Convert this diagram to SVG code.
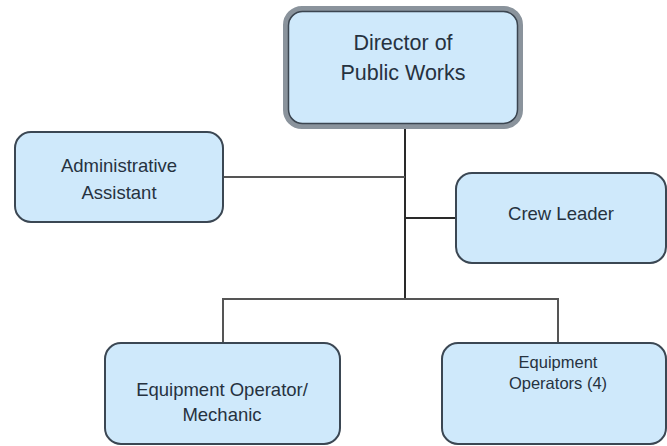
<svg xmlns="http://www.w3.org/2000/svg" width="667" height="446" viewBox="0 0 667 446">
<style>
.box{fill:#cfe9fb;stroke:#3b4753;stroke-width:2}
.t{font-family:"Liberation Sans",Arial,sans-serif;fill:#26323f;text-anchor:middle}
.c{stroke:#2a2a2a;stroke-width:2;fill:none}
</style>
<rect width="667" height="446" fill="#ffffff"/>
<g id="connectors">
<line class="c" x1="405" y1="128" x2="405" y2="300"/>
<line class="c" x1="223" y1="177" x2="405" y2="177" style="stroke:#555"/>
<line class="c" x1="405" y1="218" x2="456" y2="218"/>
<polyline class="c" points="223,343 223,299 558,299 558,343" style="stroke:#555"/>
</g>
<g id="director">
<rect x="286" y="9" width="234" height="117" rx="16" fill="#cfe9fb" stroke="#8a939c" stroke-width="6"/>
<rect x="288.5" y="11.5" width="229" height="112" rx="14" fill="none" stroke="#3b4550" stroke-width="1.5"/>
<text class="t" x="403" y="50" font-size="21.5">Director of</text>
<text class="t" x="403" y="80" font-size="21.5">Public Works</text>
</g>
<g id="admin">
<rect class="box" x="15" y="132" width="208" height="90" rx="16"/>
<text class="t" x="119" y="172" font-size="18.5">Administrative</text>
<text class="t" x="119" y="199" font-size="18.5">Assistant</text>
</g>
<g id="crew">
<rect class="box" x="456" y="173" width="210" height="90" rx="16"/>
<text class="t" x="561" y="220" font-size="18.5">Crew Leader</text>
</g>
<g id="mechanic">
<rect class="box" x="105" y="343" width="235" height="101" rx="16"/>
<text class="t" x="222" y="396" font-size="18.5">Equipment Operator/</text>
<text class="t" x="222" y="421" font-size="18.5">Mechanic</text>
</g>
<g id="operators">
<rect class="box" x="442" y="343" width="224" height="101" rx="16"/>
<text class="t" x="558" y="368" font-size="16.5">Equipment</text>
<text class="t" x="558" y="389" font-size="16.5">Operators (4)</text>
</g>
</svg>
